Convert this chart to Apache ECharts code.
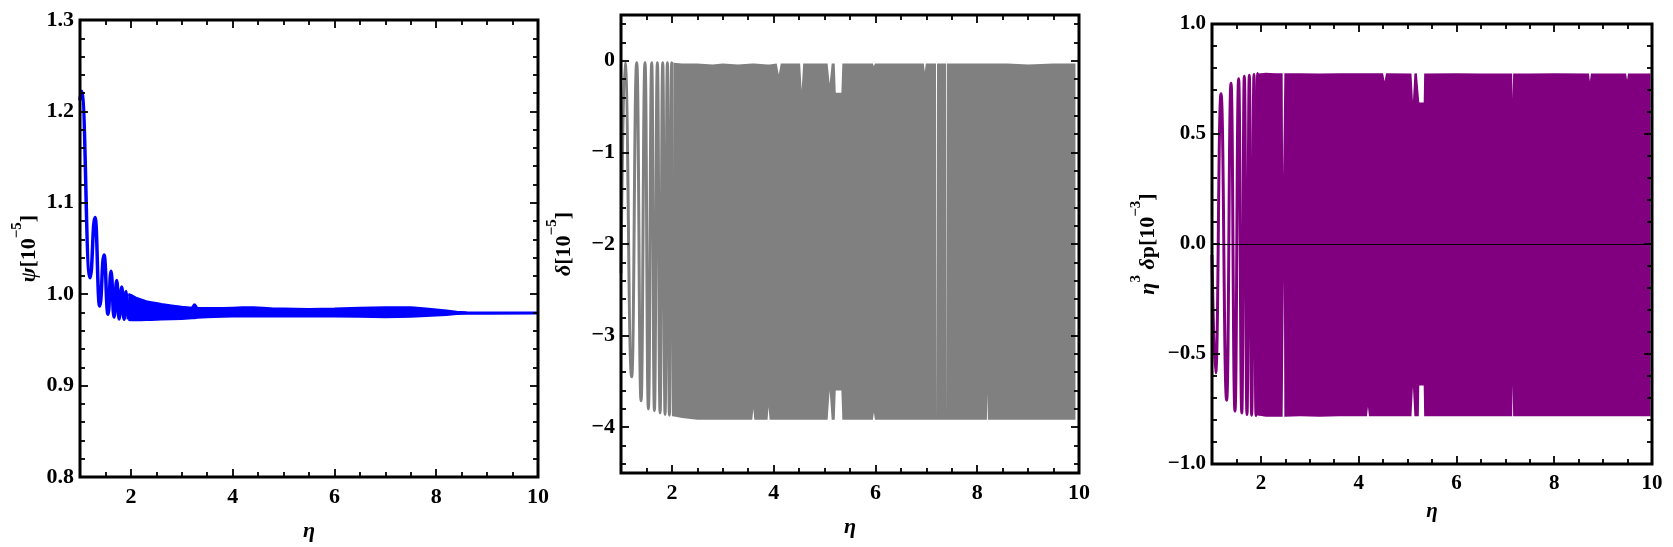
<!DOCTYPE html>
<html>
<head>
<meta charset="utf-8">
<script src="https://cdn.jsdelivr.net/npm/echarts@6/dist/echarts.min.js"></script>
<style>
  html, body { margin: 0; padding: 0; background: #fff; }
  #main { width: 1673px; height: 547px; }
</style>
</head>
<body>
<div id="main"></div>
<script>
// tick labels
var etaTicks = [2, 4, 6, 8, 10];
var psiTicks = [0.8, 0.9, 1.0, 1.1, 1.2, 1.3];
var deltaTicks = [-4, -3, -2, -1, 0];
var dpTicks = [-1.0, -0.5, 0.0, 0.5, 1.0];

// psi: the first resolved wiggles (turning points)
var psiEta = [1.0, 1.03, 1.197, 1.295, 1.387, 1.472, 1.551, 1.61, 1.669, 1.722, 1.768, 1.82, 1.866, 1.906, 1.95];
var psiVal = [1.212, 1.222, 1.018, 1.084, 0.987, 1.043, 0.978, 1.025, 0.975, 1.015, 0.973, 1.008, 0.9725, 1.003, 0.9725];
// psi: envelope of the fast oscillation afterwards
var psiBandEta = [1.95, 2.0, 2.1, 2.2, 2.3, 2.4, 2.5, 2.6, 2.8, 3.0, 3.2, 3.25, 3.3, 3.5, 3.8, 4.0, 4.2, 4.4, 4.6, 4.8, 5.0, 5.5, 6.0, 6.5, 7.0, 7.5, 7.8, 8.0, 8.2, 8.4, 8.6, 9.0, 10.0];
var psiBandUpper = [1.000, 0.999, 0.996, 0.994, 0.992, 0.991, 0.990, 0.989, 0.9875, 0.986, 0.985, 0.989, 0.985, 0.9845, 0.9845, 0.985, 0.9855, 0.9855, 0.985, 0.984, 0.984, 0.9835, 0.984, 0.985, 0.9855, 0.9855, 0.984, 0.983, 0.982, 0.9805, 0.980, 0.9798, 0.9797];
var psiBandLower = [0.972, 0.9718, 0.9718, 0.9718, 0.972, 0.972, 0.9722, 0.9725, 0.9728, 0.9732, 0.974, 0.974, 0.9745, 0.975, 0.9755, 0.9758, 0.976, 0.976, 0.976, 0.976, 0.976, 0.976, 0.976, 0.9755, 0.975, 0.9755, 0.9765, 0.977, 0.9775, 0.9785, 0.9788, 0.979, 0.9792];

// delta
var deltaEta = [1.0, 1.079, 1.21, 1.309, 1.394, 1.472, 1.538, 1.604, 1.656, 1.715, 1.768, 1.82, 1.866, 1.912, 1.951, 1.997, 2.03];
var deltaVal = [-2.32, -0.02, -3.45, -0.02, -3.71, -0.02, -3.80, -0.02, -3.82, -0.02, -3.845, -0.02, -3.86, -0.02, -3.87, -0.02, -3.88];
var deltaBandEta = [2.03, 2.2, 2.5, 2.8, 3.0, 3.3, 3.58, 3.6, 3.62, 3.88, 3.9, 3.92, 4.06, 4.1, 4.14, 4.52, 4.55, 4.58, 5.06, 5.1, 5.14, 5.17, 5.2, 5.22, 5.33, 5.35, 5.5, 5.95, 5.97, 5.99, 6.5, 6.95, 6.97, 6.99, 7.19, 7.192, 7.208, 7.21, 7.39, 7.392, 7.404, 7.406, 8.0, 8.19, 8.2, 8.21, 8.6, 9.0, 9.5, 9.93];
var deltaBandUpper = [-0.02, -0.03, -0.03, -0.04, -0.03, -0.04, -0.03, -0.05, -0.03, -0.04, -0.04, -0.04, -0.03, -0.15, -0.03, -0.03, -0.32, -0.03, -0.03, -0.25, -0.03, -0.02, -0.03, -0.35, -0.35, -0.03, -0.03, -0.03, -0.06, -0.03, -0.03, -0.03, -0.12, -0.03, -0.03, -3.92, -3.92, -0.03, -0.03, -3.92, -3.92, -0.03, -0.03, -0.03, -0.03, -0.03, -0.03, -0.04, -0.03, -0.03];
var deltaBandLower = [-3.88, -3.90, -3.92, -3.92, -3.92, -3.92, -3.92, -3.80, -3.92, -3.92, -3.78, -3.92, -3.92, -3.92, -3.92, -3.92, -3.92, -3.92, -3.92, -3.60, -3.92, -3.93, -3.92, -3.60, -3.60, -3.92, -3.92, -3.92, -3.84, -3.92, -3.92, -3.92, -3.92, -3.92, -3.92, -3.92, -3.92, -3.92, -3.92, -3.92, -3.92, -3.92, -3.92, -3.92, -3.64, -3.92, -3.92, -3.92, -3.92, -3.92];

// eta^3 delta p
var dpEta = [1.0, 1.075, 1.184, 1.30, 1.389, 1.47, 1.545, 1.61, 1.661, 1.716, 1.763, 1.811, 1.859, 1.90, 1.934, 1.95];
var dpVal = [-0.05, -0.585, 0.683, -0.71, 0.731, -0.76, 0.751, -0.768, 0.762, -0.775, 0.767, -0.778, 0.77, -0.78, 0.775, -0.78];
var dpBandEta = [1.95, 2.1, 2.3, 2.445, 2.455, 2.47, 2.48, 2.8, 3.2, 3.6, 4.17, 4.19, 4.21, 4.5, 4.53, 4.56, 5.08, 5.11, 5.14, 5.19, 5.23, 5.24, 5.33, 5.34, 6.0, 6.5, 7.14, 7.15, 7.16, 7.5, 8.0, 8.71, 8.73, 8.75, 9.47, 9.49, 9.51, 9.97];
var dpBandUpper = [0.775, 0.778, 0.776, 0.776, 0.31, 0.31, 0.776, 0.776, 0.775, 0.776, 0.776, 0.774, 0.776, 0.776, 0.74, 0.776, 0.775, 0.65, 0.775, 0.776, 0.775, 0.643, 0.643, 0.775, 0.776, 0.775, 0.775, 0.66, 0.775, 0.775, 0.776, 0.775, 0.74, 0.775, 0.775, 0.745, 0.775, 0.775];
var dpBandLower = [-0.78, -0.785, -0.785, -0.785, -0.16, -0.16, -0.785, -0.783, -0.785, -0.783, -0.783, -0.74, -0.783, -0.783, -0.783, -0.783, -0.783, -0.65, -0.783, -0.785, -0.783, -0.643, -0.643, -0.783, -0.783, -0.783, -0.783, -0.64, -0.783, -0.783, -0.783, -0.783, -0.783, -0.783, -0.783, -0.783, -0.783, -0.783];

var FONT = "'Liberation Serif', 'Times New Roman', serif";
var MINUS = '\u2212';

function fmt1(v) { return (v < 0 ? MINUS : '') + Math.abs(v).toFixed(1); }
function fmt0(v) { return (v < 0 ? MINUS : '') + Math.abs(v); }

// minor tick positions between the labelled ones
function minors(min, max, step, majors) {
  var out = [];
  for (var k = Math.round(min / step); k * step <= max + 1e-9; k++) {
    var v = Math.round(k * step * 1000) / 1000;
    if (majors.indexOf(v) < 0) out.push(v);
  }
  return out;
}

var richName = {
  i: { fontFamily: FONT, fontStyle: 'italic', fontWeight: 'bold', fontSize: 22, color: '#000', lineHeight: 30, verticalAlign: 'bottom' },
  n: { fontFamily: FONT, fontWeight: 'bold', fontSize: 22, color: '#000', lineHeight: 30, verticalAlign: 'bottom' },
  s: { fontFamily: FONT, fontWeight: 'bold', fontSize: 15, color: '#000', lineHeight: 15, verticalAlign: 'top' }
};

// four sides per panel: major + minor tick axis on each side
function sideAxes(g, dir, min, max, majors, minorVals, fmt, fs, name) {
  var pos = dir === 'x' ? ['bottom', 'top'] : ['left', 'right'];
  var out = [];
  pos.forEach(function (p, side) {
    [majors, minorVals].forEach(function (vals, m) {
      var main = side === 0 && m === 0;
      var a = {
        type: 'value', gridIndex: g, position: p, min: min, max: max, z: 10,
        axisLine: { show: false, onZero: false },
        splitLine: { show: false },
        axisTick: { show: true, inside: true, customValues: vals, length: m ? 5 : 8,
          lineStyle: { color: '#000', width: 1.8 } },
        axisLabel: { show: main, customValues: majors, formatter: fmt,
          margin: dir === 'x' ? 9 : 6,
          fontFamily: FONT, fontWeight: 'bold', fontSize: fs, color: '#000' }
      };
      if (main) {
        a.name = name.text;
        a.nameLocation = 'middle';
        a.nameGap = name.gap;
        if (dir === 'y') a.nameRotate = 90;
        a.nameTextStyle = dir === 'x'
          ? { fontFamily: FONT, fontStyle: 'italic', fontWeight: 'bold', fontSize: fs, color: '#000' }
          : { rich: richName };
      }
      out.push(a);
    });
  });
  return out;
}

function curve(g, xs, ys, color, w) {
  return {
    type: 'line', xAxisIndex: 4 * g, yAxisIndex: 4 * g,
    data: xs.map(function (x, i) { return [x, ys[i]]; }),
    symbol: 'none', smooth: 0.5, smoothMonotone: 'x',
    lineStyle: { color: color, width: w }
  };
}

// band between lower and upper envelopes, drawn as a stacked area.
// value goes first in each item (encode y:0) so the stack runs on y, by index.
function band(g, xs, upper, lower, color, edge, extra) {
  var common = {
    type: 'line', xAxisIndex: 4 * g, yAxisIndex: 4 * g,
    encode: { x: 1, y: 0 },
    symbol: 'none', stack: 'band' + g, stackStrategy: 'all',
    lineStyle: edge ? { color: color, width: edge } : { opacity: 0 }
  };
  var base = Object.assign({}, common, {
    data: xs.map(function (x, i) { return [lower[i], x]; })
  });
  var top = Object.assign({}, common, {
    data: xs.map(function (x, i) { return [upper[i] - lower[i], x]; }),
    areaStyle: { color: color, opacity: 1 }
  });
  if (extra) Object.assign(top, extra);
  return [base, top];
}

var grids = [
  { left: 80, top: 20, width: 458, height: 457 },
  { left: 621, top: 15, width: 458, height: 458 },
  { left: 1212, top: 24, width: 440, height: 440 }
];
grids.forEach(function (gr) {
  gr.show = true; gr.borderColor = '#000'; gr.borderWidth = 3;
  gr.backgroundColor = 'transparent'; gr.z = 10;
});

var xMinor = minors(1, 10, 0.5, etaTicks);

var xAxes = []
  .concat(sideAxes(0, 'x', 1, 10, etaTicks, xMinor, fmt0, 22, { text: 'η', gap: 43 }))
  .concat(sideAxes(1, 'x', 1, 10, etaTicks, xMinor, fmt0, 22, { text: 'η', gap: 43 }))
  .concat(sideAxes(2, 'x', 1, 10, etaTicks, xMinor, fmt0, 21, { text: 'η', gap: 37 }));

var yAxes = []
  .concat(sideAxes(0, 'y', 0.8, 1.3, psiTicks, minors(0.8, 1.3, 0.02, psiTicks), fmt1, 22,
    { text: '{i|ψ}{n|[10}{s|' + MINUS + '5}{n|]}', gap: 40 }))
  .concat(sideAxes(1, 'y', -4.5, 0.5, deltaTicks, minors(-4.4, 0.4, 0.2, deltaTicks), fmt0, 22,
    { text: '{i|δ}{n|[10}{s|' + MINUS + '5}{n|]}', gap: 46 }))
  .concat(sideAxes(2, 'y', -1, 1, dpTicks, minors(-1, 1, 0.1, dpTicks), fmt1, 21,
    { text: '{i|η}{s|3}{n| }{i|δ}{n|p[10}{s|' + MINUS + '3}{n|]}', gap: 53 }));

var zeroLine = {
  markLine: {
    silent: true, symbol: 'none', label: { show: false },
    lineStyle: { color: '#000', width: 1.2, type: 'solid' },
    data: [{ yAxis: 0 }]
  }
};

var series = []
  .concat([curve(0, psiEta, psiVal, '#0000ff', 3.5)])
  .concat(band(0, psiBandEta, psiBandUpper, psiBandLower, '#0000ff', 2.5))
  .concat([curve(1, deltaEta, deltaVal, '#808080', 3)])
  .concat(band(1, deltaBandEta, deltaBandUpper, deltaBandLower, '#808080', 0))
  .concat([curve(2, dpEta, dpVal, '#800080', 3)])
  .concat(band(2, dpBandEta, dpBandUpper, dpBandLower, '#800080', 0, zeroLine));

var myChart = echarts.init(document.getElementById('main'));
myChart.setOption({
  animation: false,
  backgroundColor: '#fff',
  grid: grids,
  xAxis: xAxes,
  yAxis: yAxes,
  series: series
});
</script>
</body>
</html>
